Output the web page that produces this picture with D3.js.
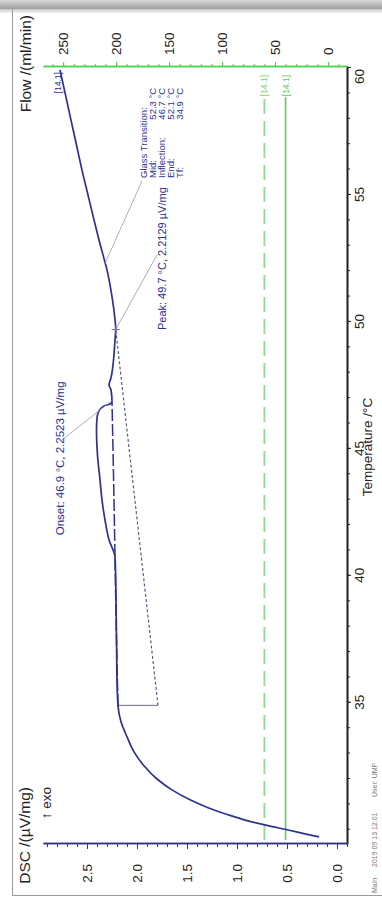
<!DOCTYPE html>
<html>
<head>
<meta charset="utf-8">
<script src="https://cdn.jsdelivr.net/npm/d3@7"></script>
<style>
  html, body { margin: 0; padding: 0; background: #fff; }
  svg { display: block; font-family: "Liberation Sans", Arial, "DejaVu Sans", sans-serif; }
</style>
</head>
<body>
<svg id="chart" width="382" height="897"></svg>
<script>
// DSC heating run, segment [14.1]: temperature (°C) and heat flow (µV/mg)
const dscTemp  = [29.72, 29.84, 30.0, 30.16, 30.35, 30.59, 30.87, 31.18, 31.57, 32.0, 32.52, 33.07, 33.66, 34.25, 34.88,
                  35.9, 37.48, 39.06, 40.24, 40.75, 41.42, 42.2, 42.99, 43.78, 44.76, 45.75, 46.22, 46.5, 46.69, 46.77, 46.85,
                  47.32, 47.52, 47.8, 48.5, 49.29, 49.7, 50.28, 50.87, 51.46, 52.05, 52.64, 53.23, 54.02, 55.0, 55.98,
                  56.97, 57.95, 58.94, 59.92];
const dscValue = [0.18, 0.32, 0.50, 0.69, 0.89, 1.09, 1.29, 1.47, 1.65, 1.80, 1.93, 2.03, 2.10, 2.16, 2.19,
                  2.20, 2.205, 2.21, 2.215, 2.22, 2.28, 2.32, 2.35, 2.37, 2.395, 2.405, 2.40, 2.38, 2.33, 2.27, 2.25,
                  2.26, 2.28, 2.26, 2.235, 2.22, 2.2129, 2.225, 2.245, 2.27, 2.30, 2.34, 2.38, 2.43, 2.49, 2.55,
                  2.605, 2.66, 2.715, 2.77];

// second trace running straight through the transition region
const altTemp  = [34.88, 37.5, 40.75, 42.99, 44.96, 46.85];
const altValue = [2.19, 2.205, 2.22, 2.23, 2.24, 2.25];

// purge gas flows (ml/min)
const flowTemp       = [29.6, 58.85];
const purgeFlow      = [40, 40];
const protectiveFlow = [60, 60];

// evaluation results
const onset = { t: 46.9, v: 2.2523 };
const peak  = { t: 49.7, v: 2.2129 };
const glassMid = { t: 52.3, v: 2.32 };
const tf = { t: 34.9, low: 1.79, high: 2.19 };
const baselineTemp  = [34.9, 49.7];
const baselineValue = [1.79, 2.2129];

const glassLabels = ["Mid:", "Inflection:", "End:", "Tf:"];
const glassValues = ["52.3 °C", "46.7 °C", "52.1 °C", "34.9 °C"];

// axis ticks
const tempTicks = [35, 40, 45, 50, 55, 60];
const dscTicks  = [0, 0.5, 1.0, 1.5, 2.0, 2.5];
const flowTicks = [0, 50, 100, 150, 200, 250];

const W = 897;   // landscape width before rotation
const svg = d3.select("#chart");

// ---- page frame ----
const defs = svg.append("defs");
const band = defs.append("linearGradient").attr("id", "band").attr("x1", 0).attr("y1", 0).attr("x2", 0).attr("y2", 1);
band.append("stop").attr("offset", "0%").attr("stop-color", "#d9d9d9");
band.append("stop").attr("offset", "100%").attr("stop-color", "#9d9d9d");
const shade = defs.append("linearGradient").attr("id", "shade").attr("x1", 0).attr("y1", 0).attr("x2", 0).attr("y2", 1);
shade.append("stop").attr("offset", "0%").attr("stop-color", "#c8c8c8");
shade.append("stop").attr("offset", "100%").attr("stop-color", "#ffffff");
svg.append("rect").attr("x", 0).attr("y", 0).attr("width", 382).attr("height", 9).attr("fill", "url(#band)");
svg.append("rect").attr("x", 0).attr("y", 9).attr("width", 382).attr("height", 5).attr("fill", "url(#shade)");
svg.append("line").attr("x1", 12.5).attr("x2", 12.5).attr("y1", 9).attr("y2", 895.5).attr("stroke", "#9a9a9a");
svg.append("line").attr("x1", 12).attr("x2", 382).attr("y1", 895.5).attr("y2", 895.5).attr("stroke", "#9a9a9a");

// ---- chart drawn in landscape, then turned upright ----
const g = svg.append("g").attr("transform", `translate(0,${W}) rotate(-90)`);

const x  = d3.scaleLinear().domain([29.4, 60.04]).range([52, 830]);
const yD = d3.scaleLinear().domain([-0.1, 2.94]).range([347, 43]);
const yF = d3.scaleLinear().domain([-18, 269]).range([347, 43]);

const blue = "#2d3190";
const green = "#4fd14f";
const tickFont = 13.5;

function styleAxis(sel, color) {
  sel.select(".domain").attr("stroke", color).attr("stroke-width", 1.6);
  sel.selectAll(".tick line").attr("stroke", color).attr("stroke-width", 1);
  sel.selectAll(".tick text").attr("fill", "#222").style("font-size", tickFont + "px");
}

// temperature axis
const gT = g.append("g").attr("transform", "translate(0,347)");
gT.append("g").call(d3.axisBottom(x).tickValues(d3.range(30, 61)).tickSize(3).tickSizeOuter(0).tickFormat(""))
  .call(s => styleAxis(s, "#222"));
gT.append("g").call(d3.axisBottom(x).tickValues(tempTicks).tickSize(4).tickSizeOuter(0).tickPadding(3).tickFormat(d3.format("d")))
  .call(s => styleAxis(s, "#222"))
  .call(s => s.selectAll(".tick text").filter(d => d === 60).attr("dx", -9));

// DSC axis
const gD = g.append("g").attr("transform", "translate(53,0)");
gD.append("g").call(d3.axisLeft(yD).tickValues(d3.range(-1, 30).map(i => i / 10)).tickSize(3).tickSizeOuter(0).tickFormat(""))
  .call(s => styleAxis(s, blue));
gD.append("g").call(d3.axisLeft(yD).tickValues(dscTicks).tickSize(5).tickSizeOuter(0).tickPadding(15).tickFormat(d3.format(".1f")))
  .call(s => styleAxis(s, blue));

// flow axis
const gF = g.append("g").attr("transform", "translate(830,0)");
gF.append("g").call(d3.axisRight(yF).tickValues(d3.range(-10, 270, 10)).tickSize(3).tickSizeOuter(0).tickFormat(""))
  .call(s => styleAxis(s, green));
gF.append("g").call(d3.axisRight(yF).tickValues(flowTicks).tickSize(5).tickSizeOuter(0).tickPadding(7).tickFormat(d3.format("d")))
  .call(s => styleAxis(s, green));

// axis titles
g.append("text").attr("x", 450).attr("y", 372).attr("text-anchor", "middle")
  .style("font-size", "13.5px").attr("fill", "#222").text("Temperature /°C");
g.append("text").attr("x", 110).attr("y", 30).attr("text-anchor", "end")
  .style("font-size", "15.5px").attr("fill", "#222").text("DSC /(µV/mg)");
g.append("text").attr("x", 110).attr("y", 51).attr("text-anchor", "end")
  .style("font-size", "13.5px").attr("fill", "#222").text("↑ exo");
g.append("text").attr("x", 882).attr("y", 31).attr("text-anchor", "end")
  .style("font-size", "15.5px").attr("fill", "#222").text("Flow /(ml/min)");

// run info line
const info = g.append("text").attr("y", 377).style("font-size", "7px").attr("fill", "#777");
info.append("tspan").attr("x", 4).text("Main");
info.append("tspan").attr("x", 30).text("2019 09 13 12:01");
info.append("tspan").attr("x", 100).text("User: UMP");

// ---- flow traces ----
const flowLine = d3.line().x(d => x(d[0])).y(d => yF(d[1]));
g.append("path").datum(d3.zip(flowTemp, protectiveFlow)).attr("d", flowLine)
  .attr("fill", "none").attr("stroke", "#8fdc8f").attr("stroke-width", 1.8).attr("stroke-dasharray", "15,7");
g.append("path").datum(d3.zip(flowTemp, purgeFlow)).attr("d", flowLine)
  .attr("fill", "none").attr("stroke", "#5ccb5c").attr("stroke-width", 1.6);
[[protectiveFlow, "#7bcf7b"], [purgeFlow, "#5ccb5c"]].forEach(([f, c]) => {
  g.append("text").attr("x", x(flowTemp[1]) + 1).attr("y", yF(f[1])).attr("dy", "0.35em")
    .style("font-size", "8.5px").attr("fill", c).text("[14.1]");
});

// ---- evaluation constructions ----
const valLine = d3.line().x(d => x(d[0])).y(d => yD(d[1]));
g.append("path").datum(d3.zip(baselineTemp, baselineValue)).attr("d", valLine)
  .attr("fill", "none").attr("stroke", "#5c5e80").attr("stroke-width", 1.2).attr("stroke-dasharray", "3,2.2");
g.append("line").attr("x1", x(tf.t)).attr("x2", x(tf.t)).attr("y1", yD(tf.high)).attr("y2", yD(tf.low))
  .attr("stroke", "#6b6b7a").attr("stroke-width", 1);

// ---- DSC traces ----
const dscLine = d3.line().x(d => x(d[0])).y(d => yD(d[1])).curve(d3.curveMonotoneX);
g.append("path").datum(d3.zip(altTemp, altValue)).attr("d", dscLine)
  .attr("fill", "none").attr("stroke", blue).attr("stroke-width", 1.5).attr("stroke-dasharray", "12,3");
g.append("path").datum(d3.zip(dscTemp, dscValue)).attr("d", dscLine)
  .attr("fill", "none").attr("stroke", blue).attr("stroke-width", 1.7).attr("stroke-linejoin", "round");
g.append("text").attr("x", x(dscTemp[dscTemp.length - 1]) - 2).attr("y", yD(dscValue[dscValue.length - 1]) + 1)
  .attr("text-anchor", "end").style("font-size", "8.5px").attr("fill", blue).text("[14.1]");

// peak marker
const px = x(peak.t), py = yD(peak.v);
g.append("path").attr("d", `M${px - 4},${py}H${px + 4}M${px},${py - 4}V${py + 4}`)
  .attr("stroke", "#6b6b7a").attr("stroke-width", 1);

// ---- annotations ----
const pointer = (from, to) => g.append("line")
  .attr("x1", x(from[0])).attr("y1", yD(from[1])).attr("x2", x(to[0])).attr("y2", yD(to[1]))
  .attr("stroke", "#9a9aa6").attr("stroke-width", 0.8);
pointer([onset.t, onset.v], [45.35, 2.75]);
pointer([peak.t, peak.v], [52.64, 1.80]);
pointer([glassMid.t, glassMid.v], [55.55, 1.95]);

g.append("text").attr("x", x(41.6)).attr("y", yD(2.73))
  .style("font-size", "11.5px").attr("fill", blue).text("Onset: 46.9 °C, 2.2523 µV/mg");
g.append("text").attr("x", x(49.68)).attr("y", yD(1.71))
  .style("font-size", "11px").attr("fill", blue).text("Peak: 49.7 °C, 2.2129 µV/mg");

const glassTop = yD(1.905);
g.append("text").attr("x", x(55.67)).attr("y", glassTop)
  .style("font-size", "9.5px").attr("fill", blue).text("Glass Transition:");
glassLabels.forEach((lab, i) => {
  const yy = glassTop + (i + 1) * 9;
  g.append("text").attr("x", x(55.67)).attr("y", yy).style("font-size", "9.5px").attr("fill", blue).text(lab);
  g.append("text").attr("x", x(59.22)).attr("y", yy).attr("text-anchor", "end")
    .style("font-size", "9.5px").attr("fill", blue).text(glassValues[i]);
});
</script>
</body>
</html>
